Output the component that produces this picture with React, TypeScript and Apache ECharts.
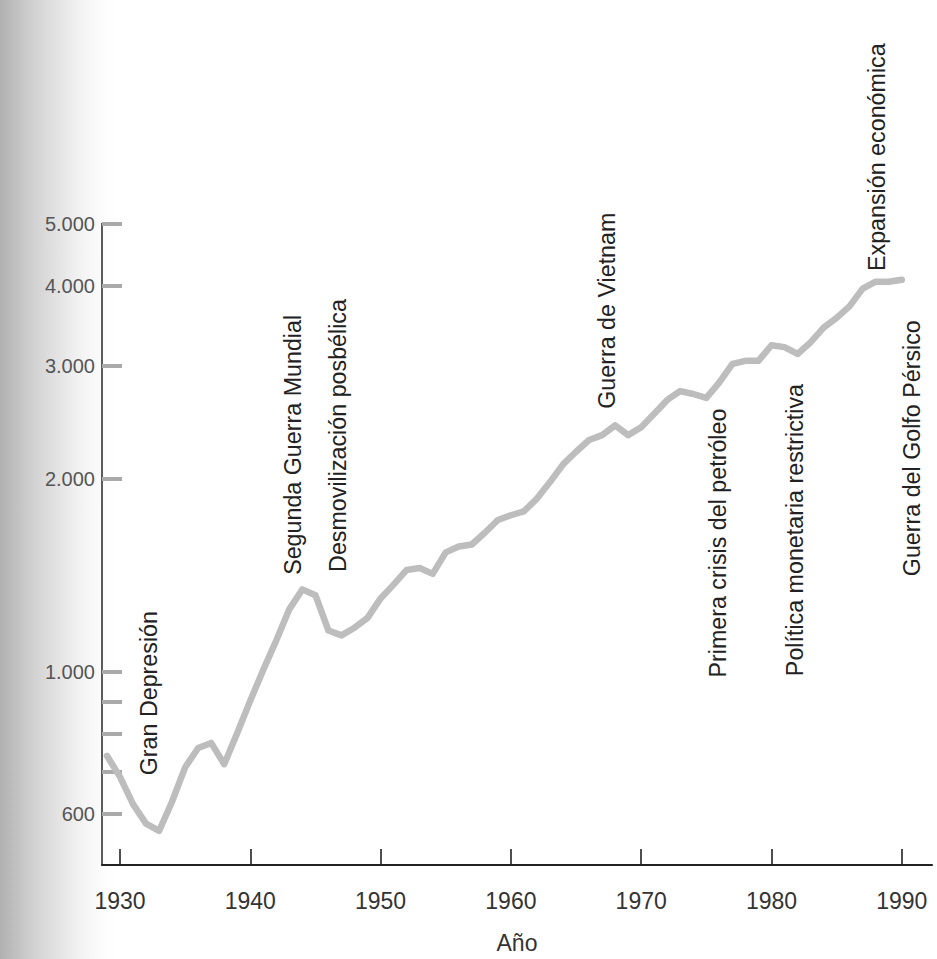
import React, { useEffect, useRef } from "react";
import * as echarts from "echarts";

const years = [
  1929, 1930, 1931, 1932, 1933, 1934, 1935, 1936, 1937, 1938, 1939,
  1940, 1941, 1942, 1943, 1944, 1945, 1946, 1947, 1948, 1949,
  1950, 1951, 1952, 1953, 1954, 1955, 1956, 1957, 1958, 1959,
  1960, 1961, 1962, 1963, 1964, 1965, 1966, 1967, 1968, 1969,
  1970, 1971, 1972, 1973, 1974, 1975, 1976, 1977, 1978, 1979,
  1980, 1981, 1982, 1983, 1984, 1985, 1986, 1987, 1988, 1989, 1990,
];
const gdp = [
  740, 686, 622, 580, 565, 628, 710, 761, 775, 718, 803,
  902, 1008, 1120, 1253, 1345, 1317, 1160, 1140, 1172, 1214,
  1302, 1368, 1442, 1452, 1422, 1536, 1569, 1580, 1648, 1725,
  1755, 1780, 1863, 1977, 2106, 2204, 2299, 2340, 2424, 2340,
  2407, 2527, 2655, 2741, 2712, 2674, 2828, 3022, 3055, 3055,
  3231, 3209, 3131, 3265, 3442, 3564, 3718, 3959, 4058, 4058, 4086,
];

const yTickValues = [600, 700, 800, 900, 1000, 2000, 3000, 4000, 5000];
const yLabelValues = [600, 1000, 2000, 3000, 4000, 5000];
const xLabelValues = [1930, 1940, 1950, 1960, 1970, 1980, 1990];
const xAxisTitle = "Año";

// Event labels, anchored (bottom end of the vertical text) at [year, value]
const eventTexts = [
  "Gran Depresión",
  "Segunda Guerra Mundial",
  "Desmovilización posbélica",
  "Guerra de Vietnam",
  "Primera crisis del petróleo",
  "Política monetaria restrictiva",
  "Expansión económica",
  "Guerra del Golfo Pérsico",
];
const eventYears = [1932.2, 1943.3, 1946.7, 1967.4, 1975.9, 1981.8, 1988.1, 1990.8];
const eventValues = [690, 1417, 1432, 2572, 980, 985, 4218, 1410];

const fmtThousands = (v: number) =>
  v >= 1000 ? String(v).replace(/\B(?=(\d{3})+(?!\d))/g, ".") : String(v);

export default function App() {
  const ref = useRef<HTMLDivElement>(null);

  useEffect(() => {
    if (!ref.current) return;
    const chart = echarts.init(ref.current, null, { renderer: "svg" });
    const sans = "'Liberation Sans', Arial, sans-serif";

    chart.setOption({
      animation: false,
      backgroundColor: "#ffffff",
      grid: { left: 102, top: 223.6, width: 830, height: 656.4 },
      xAxis: {
        type: "value",
        min: 1928.62,
        max: 1992.32,
        name: xAxisTitle,
        nameLocation: "middle",
        nameGap: 66,
        nameTextStyle: { fontSize: 23, color: "#333", fontFamily: sans },
        axisLine: { show: true, lineStyle: { color: "#222", width: 2.2 } },
        axisTick: {
          show: true,
          inside: true,
          length: 16,
          customValues: xLabelValues,
          lineStyle: { color: "#222", width: 1.6 },
        },
        axisLabel: {
          customValues: xLabelValues,
          formatter: (v: number) => String(Math.round(v)),
          fontSize: 23,
          color: "#333",
          margin: 24,
          fontFamily: sans,
        },
        splitLine: { show: false },
      },
      yAxis: {
        type: "log",
        logBase: 10,
        min: 500,
        max: 5000,
        axisLine: { show: true, lineStyle: { color: "#333", width: 1.6 } },
        axisTick: {
          show: true,
          inside: true,
          length: 20,
          customValues: yTickValues,
          lineStyle: { color: "#aaaaaa", width: 4 },
        },
        axisLabel: {
          customValues: yLabelValues,
          formatter: (v: number) => fmtThousands(Math.round(v)),
          fontSize: 20,
          color: "#555",
          margin: 7,
          fontFamily: sans,
        },
        splitLine: { show: false },
      },
      series: [
        {
          type: "line",
          data: years.map((y, i) => [y, gdp[i]]),
          symbol: "none",
          lineStyle: { color: "#bdbdbd", width: 6.5, cap: "round", join: "round" },
          z: 3,
        },
      ],
    });

    const texts = eventTexts.map((t, i) => {
      const p = chart.convertToPixel({ gridIndex: 0 }, [eventYears[i], eventValues[i]]) as number[];
      return {
        type: "text",
        x: p[0],
        y: p[1],
        rotation: Math.PI / 2,
        scaleX: 0.97,
        z: 10,
        style: {
          text: t,
          fontSize: 24,
          fontFamily: sans,
          fill: "#222",
          align: "left",
          verticalAlign: "middle",
          textAlign: "left",
          textVerticalAlign: "middle",
        },
      };
    });

    chart.setOption({
      graphic: [
        {
          type: "rect",
          left: 0,
          top: 0,
          z: -10,
          silent: true,
          shape: { width: 125, height: 959 },
          style: {
            fill: new echarts.graphic.LinearGradient(0, 0, 1, 0, [
              { offset: 0, color: "rgba(150,150,150,0.75)" },
              { offset: 0.5, color: "rgba(200,200,200,0.45)" },
              { offset: 1, color: "rgba(255,255,255,0)" },
            ]),
          },
        },
        ...texts,
      ],
    });

    return () => chart.dispose();
  }, []);

  return (
    <div
      ref={ref}
      style={{ position: "fixed", left: 0, top: 0, width: 937, height: 959 }}
    />
  );
}
